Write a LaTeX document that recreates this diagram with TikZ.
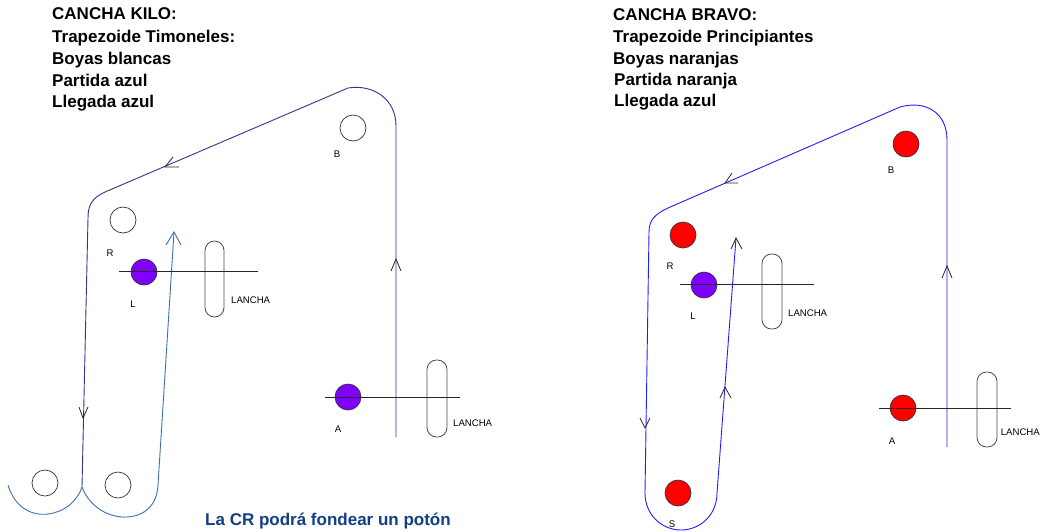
\documentclass[tikz,border=0pt]{standalone}
\usepackage{fontspec}
\setmainfont{Liberation Sans}
\usetikzlibrary{calc}
\definecolor{boyaviol}{RGB}{128,0,255}
\definecolor{rutakilo}{RGB}{52,52,140}
\definecolor{rutaacero}{RGB}{62,110,180}
\definecolor{rutabravo}{RGB}{30,30,255}
\definecolor{textoazul}{RGB}{18,62,130}

\begin{document}
\begin{tikzpicture}[x=1pt,y=-1pt,
    titulo/.style={anchor=base west,inner sep=0pt,font=\fontsize{17}{20}\selectfont\bfseries},
    etiqueta/.style={inner sep=0pt,font=\fontsize{9.6}{12}\selectfont},
    boya/.style={circle,draw=black!80,line width=0.7pt,minimum size=26pt,inner sep=0pt},
    blanca/.style={boya,fill=white},
    violeta/.style={boya,fill=boyaviol},
    roja/.style={boya,fill=red},
    lancha/.style={draw=black!70,line width=0.8pt,rounded corners=9.5pt},
    linea/.style={draw=black!85,line width=0.8pt},
    flecha/.style={draw=black!85,line width=0.8pt}]
    \useasboundingbox (0,0) rectangle (1040,531);
    %textos de la cancha kilo
    \node[titulo] (k1) at (52,19) {CANCHA KILO:};
    \node[titulo] (k2) at (52,42) {Trapezoide Timoneles:};
    \node[titulo] (k3) at (52,64) {Boyas blancas};
    \node[titulo] (k4) at (52,86) {Partida azul};
    \node[titulo] (k5) at (52,107) {Llegada azul};
    %textos de la cancha bravo
    \node[titulo] (b1) at (613,20) {CANCHA BRAVO:};
    \node[titulo] (b2) at (613,42) {Trapezoide Principiantes};
    \node[titulo] (b3) at (613,64) {Boyas naranjas};
    \node[titulo] (b4) at (614,85) {Partida naranja};
    \node[titulo] (b5) at (614,106) {Llegada azul};
    \node[titulo,text=textoazul] (nota) at (205,525) {La CR podrá fondear un potón};
    %recorrido kilo
    \coordinate (kA) at (396,437);
    \coordinate (kB) at (396,126);
    \coordinate (kC) at (348,88);
    \coordinate (kD) at (105,192);
    \coordinate (kE) at (88,218);
    \coordinate (kF) at (82,487);
    \draw[rutakilo,line width=0.9pt] (kA)--(kB) .. controls (396,98) and (372,84) .. (kC)--(kD)
        .. controls (92,198) and (88,205) .. (kE)--(kF);
    \coordinate (kG) at (8,485);
    \coordinate (kH) at (158,485);
    \coordinate (kI) at (174,232);
    \draw[rutaacero,line width=0.9pt] (kG) .. controls (15,508) and (32,516) .. (48,514)
        .. controls (64,512) and (77,502) .. (kF);
    \draw[rutaacero,line width=0.9pt] (kF) .. controls (90,508) and (110,518) .. (127,517)
        .. controls (145,516) and (157,505) .. (kH)--(kI);
    %boyas kilo
    \node[blanca] (kiloB) at (353,128) {};
    \node[blanca] (kiloR) at (123,220) {};
    \node[violeta] (kiloL) at (144,272) {};
    \node[violeta] (kiloA) at (348,397) {};
    \node[blanca] (kiloS1) at (45,483) {};
    \node[blanca] (kiloS2) at (118,485) {};
    \node[etiqueta] at (337,154) {B};
    \node[etiqueta] at (110,253) {R};
    \node[etiqueta] at (133,304) {L};
    \node[etiqueta] at (338,429) {A};
    %lanchas kilo
    \draw[lancha] (205,317) rectangle (224,241);
    \draw[lancha] (427,437) rectangle (447,360);
    \node[etiqueta,anchor=west] at (231,300) {LANCHA};
    \node[etiqueta,anchor=west] at (453,423) {LANCHA};
    \coordinate (kl1) at (119,271);
    \coordinate (kl2) at (258,271);
    \coordinate (kl3) at (325,397);
    \coordinate (kl4) at (460,397);
    \draw[linea] (kl1)--(kl2);
    \draw[linea] (kl3)--(kl4);
    %flechas kilo
    \draw[flecha] (173,157)--(165,167)--(179,167);
    \draw[flecha] (79,407)--(83,418)--(88,407);
    \draw[flecha] (391,271)--(396,259)--(401,271);
    \draw[rutaacero,line width=0.9pt] (166,245)--(kI)--(181,245);
    %recorrido bravo
    \coordinate (bA) at (947,447);
    \coordinate (bB) at (947,140);
    \coordinate (bC) at (900,107);
    \coordinate (bD) at (668,208);
    \coordinate (bE) at (649,232);
    \coordinate (bF) at (645,493);
    \coordinate (bG) at (717,493);
    \coordinate (bH) at (736,238);
    \draw[rutabravo,line width=0.9pt] (bA)--(bB) .. controls (947,112) and (925,100) .. (bC)--(bD)
        .. controls (655,214) and (649,220) .. (bE)--(bF)
        .. controls (645,515) and (662,530) .. (681,530)
        .. controls (700,530) and (717,515) .. (bG)--(bH);
    %boyas bravo
    \node[roja] (bravoB) at (906,144) {};
    \node[roja] (bravoR) at (683,235) {};
    \node[violeta] (bravoL) at (704,285) {};
    \node[roja] (bravoA) at (903,408) {};
    \node[roja] (bravoS) at (678,493) {};
    \node[etiqueta] at (891,170) {B};
    \node[etiqueta] at (670,266) {R};
    \node[etiqueta] at (693,316) {L};
    \node[etiqueta] at (892,441) {A};
    \node[etiqueta] at (672,524) {S};
    %lanchas bravo
    \draw[lancha] (762,329) rectangle (782,254);
    \draw[lancha] (977,447) rectangle (997,372);
    \node[etiqueta,anchor=west] at (788,313) {LANCHA};
    \node[etiqueta,anchor=east] at (1040,432) {LANCHA};
    \coordinate (bl1) at (680,284);
    \coordinate (bl2) at (814,284);
    \coordinate (bl3) at (879,408);
    \coordinate (bl4) at (1011,408);
    \draw[linea] (bl1)--(bl2);
    \draw[linea] (bl3)--(bl4);
    %flechas bravo
    \draw[flecha] (732,173)--(725,183)--(738,183);
    \draw[flecha] (640,418)--(645,428)--(650,418);
    \draw[flecha] (720,398)--(725,387)--(731,398);
    \draw[flecha] (731,249)--(bH)--(742,249);
    \draw[flecha] (942,278)--(947,266)--(952,278);
\end{tikzpicture}
\end{document}
